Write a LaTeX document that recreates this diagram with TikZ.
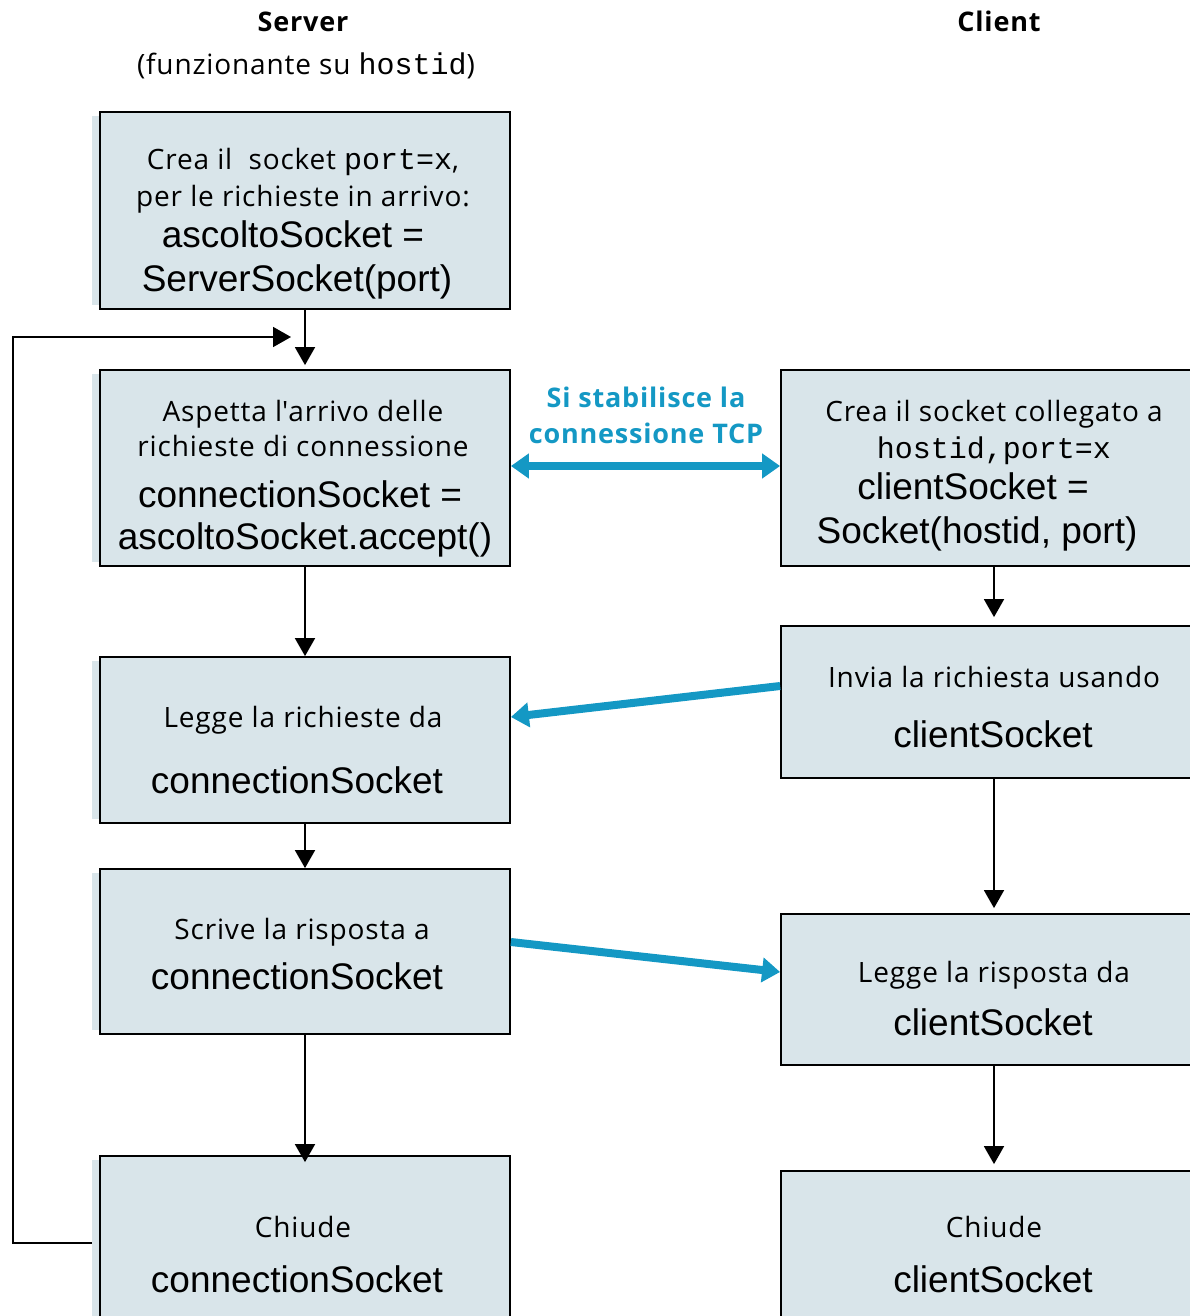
\documentclass[tikz,border=0pt]{standalone}
\usepackage{fontspec}
\usetikzlibrary{arrows.meta,backgrounds}
\newfontfamily\humfont{Open Sans}[LetterSpace=3]
\newfontfamily\arifont{Liberation Sans}
\newfontfamily\courfont{Liberation Mono}
\newcommand\codetxt[1]{{\courfont\fontsize{30}{36}\selectfont #1}}
\definecolor{boxfill}{RGB}{217,229,234}
\definecolor{tcpblue}{RGB}{20,152,196}
\tikzset{
  box/.style={draw=black, line width=1.8pt, fill=boxfill, inner sep=0pt},
  hum/.style={font=\humfont\fontsize{28}{33}\selectfont, anchor=base, inner sep=0pt},
  ari/.style={font=\arifont\fontsize{37}{44}\selectfont, anchor=base, inner sep=0pt},
  ttl/.style={font=\humfont\bfseries\fontsize{27}{32}\selectfont, anchor=base, inner sep=0pt},
  arr/.style={line width=1.8pt, -{Triangle[length=18pt,width=20pt]}},
  barr/.style={tcpblue, line width=8pt, -{Triangle[length=18pt,width=24pt]}},
  strip/.style={fill=boxfill}
}
\begin{document}
\begin{tikzpicture}[x=1pt,y=-1pt]
\useasboundingbox (0,0) rectangle (1190,1316);
\clip (0,0) rectangle (1190,1316);

% column titles
\node[ttl] (srvtitle) at (303,32) {Server};
\node[hum] (srvhost) at (306,75) {(funzionante su \codetxt{hostid})};
\node[ttl] (clititle) at (999,32) {Client};

% server boxes
\node[box, minimum width=410, minimum height=197] (S1) at (305,210.5) {};
\node[box, minimum width=410, minimum height=196] (S2) at (305,468) {};
\node[box, minimum width=410, minimum height=166] (S3) at (305,740) {};
\node[box, minimum width=410, minimum height=165] (S4) at (305,951.5) {};
\node[box, minimum width=410, minimum height=200] (S5) at (305,1256) {};

% client boxes (running past the right edge)
\node[box, minimum width=419, minimum height=196] (C1) at (990.5,468) {};
\node[box, minimum width=419, minimum height=152] (C2) at (990.5,702) {};
\node[box, minimum width=419, minimum height=151] (C3) at (990.5,989.5) {};
\node[box, minimum width=419, minimum height=169] (C4) at (990.5,1255.5) {};

% offset fill strips on the left of the server boxes
\begin{scope}[on background layer]
  \foreach \b in {S1,S2,S3,S4,S5}
    \fill[strip] ([xshift=-7pt,yshift=-5pt]\b.north west) rectangle ([yshift=5pt]\b.south west);
\end{scope}

% server texts
\node[hum] (s1a) at (303,170) {Crea il\ \ socket \codetxt{port=x},};
\node[hum] (s1b) at (303,206) {per le richieste in arrivo:};
\node[ari] (s1c) at (293,247) {ascoltoSocket =};
\node[ari] (s1d) at (297,291) {ServerSocket(port)};

\node[hum] (s2a) at (303,421) {Aspetta l\textquotesingle arrivo delle};
\node[hum] (s2b) at (303,456) {richieste di connessione};
\node[ari] (s2c) at (300,507) {connectionSocket =};
\node[ari] (s2d) at (305,549) {ascoltoSocket.accept()};

\node[hum] (s3a) at (303,727) {Legge la richieste da};
\node[ari] (s3b) at (297,793) {connectionSocket};

\node[hum] (s4a) at (302,939) {Scrive la risposta a};
\node[ari] (s4b) at (297,989) {connectionSocket};

\node[hum] (s5a) at (303,1237) {Chiude};
\node[ari] (s5b) at (297,1292) {connectionSocket};

% client texts
\node[hum] (c1a) at (994,421.7) {Crea il socket collegato a};
\node[hum] (c1b) at (994,458) {\codetxt{hostid,port=x}};
\node[ari] (c1c) at (973,499) {clientSocket =};
\node[ari] (c1d) at (977,543) {Socket(hostid, port)};

\node[hum] (c2a) at (994,687) {Invia la richiesta usando};
\node[ari] (c2b) at (993,747) {clientSocket};

\node[hum] (c3a) at (994,982) {Legge la risposta da};
\node[ari] (c3b) at (993,1035) {clientSocket};

\node[hum] (c4a) at (994,1237) {Chiude};
\node[ari] (c4b) at (993,1292) {clientSocket};

% TCP connection label
\node[ttl, text=tcpblue] (tcpa) at (646,407) {Si stabilisce la};
\node[ttl, text=tcpblue] (tcpb) at (646,443) {connessione TCP};

% helper coordinates
\coordinate (cx) at (994,0);
\coordinate (loopy) at (0,1243);
\coordinate (loopcorner) at (13,337);
\coordinate (loopin) at (291,337);
\coordinate (tcpy) at (0,466);

% server flow
\draw[arr] (S1.south) -- ([yshift=4pt]S2.north);
\draw[arr] (S2.south) -- (S3.north);
\draw[arr] (S3.south) -- (S4.north);
\draw[arr] (S4.south) -- ([yshift=-7pt]S5.north);
\draw[arr] ([xshift=-7pt]S5.west |- loopy) -| (loopcorner) -- (loopin);

% client flow
\draw[arr] (C1.south -| cx) -- ([yshift=8pt]C2.north -| cx);
\draw[arr] (C2.south -| cx) -- ([yshift=5pt]C3.north -| cx);
\draw[arr] (C3.south -| cx) -- ([yshift=6pt]C4.north -| cx);

% messages between the two sides
\draw[barr, {Triangle[length=18pt,width=24pt]}-{Triangle[length=18pt,width=24pt]}] (S2.east |- tcpy) -- (C1.west |- tcpy);
\draw[barr] ([yshift=16pt]C2.west) -- ([yshift=23pt]S3.east);
\draw[barr] ([yshift=9.5pt]S4.east) -- ([yshift=17.5pt]C3.west);
\end{tikzpicture}
\end{document}
